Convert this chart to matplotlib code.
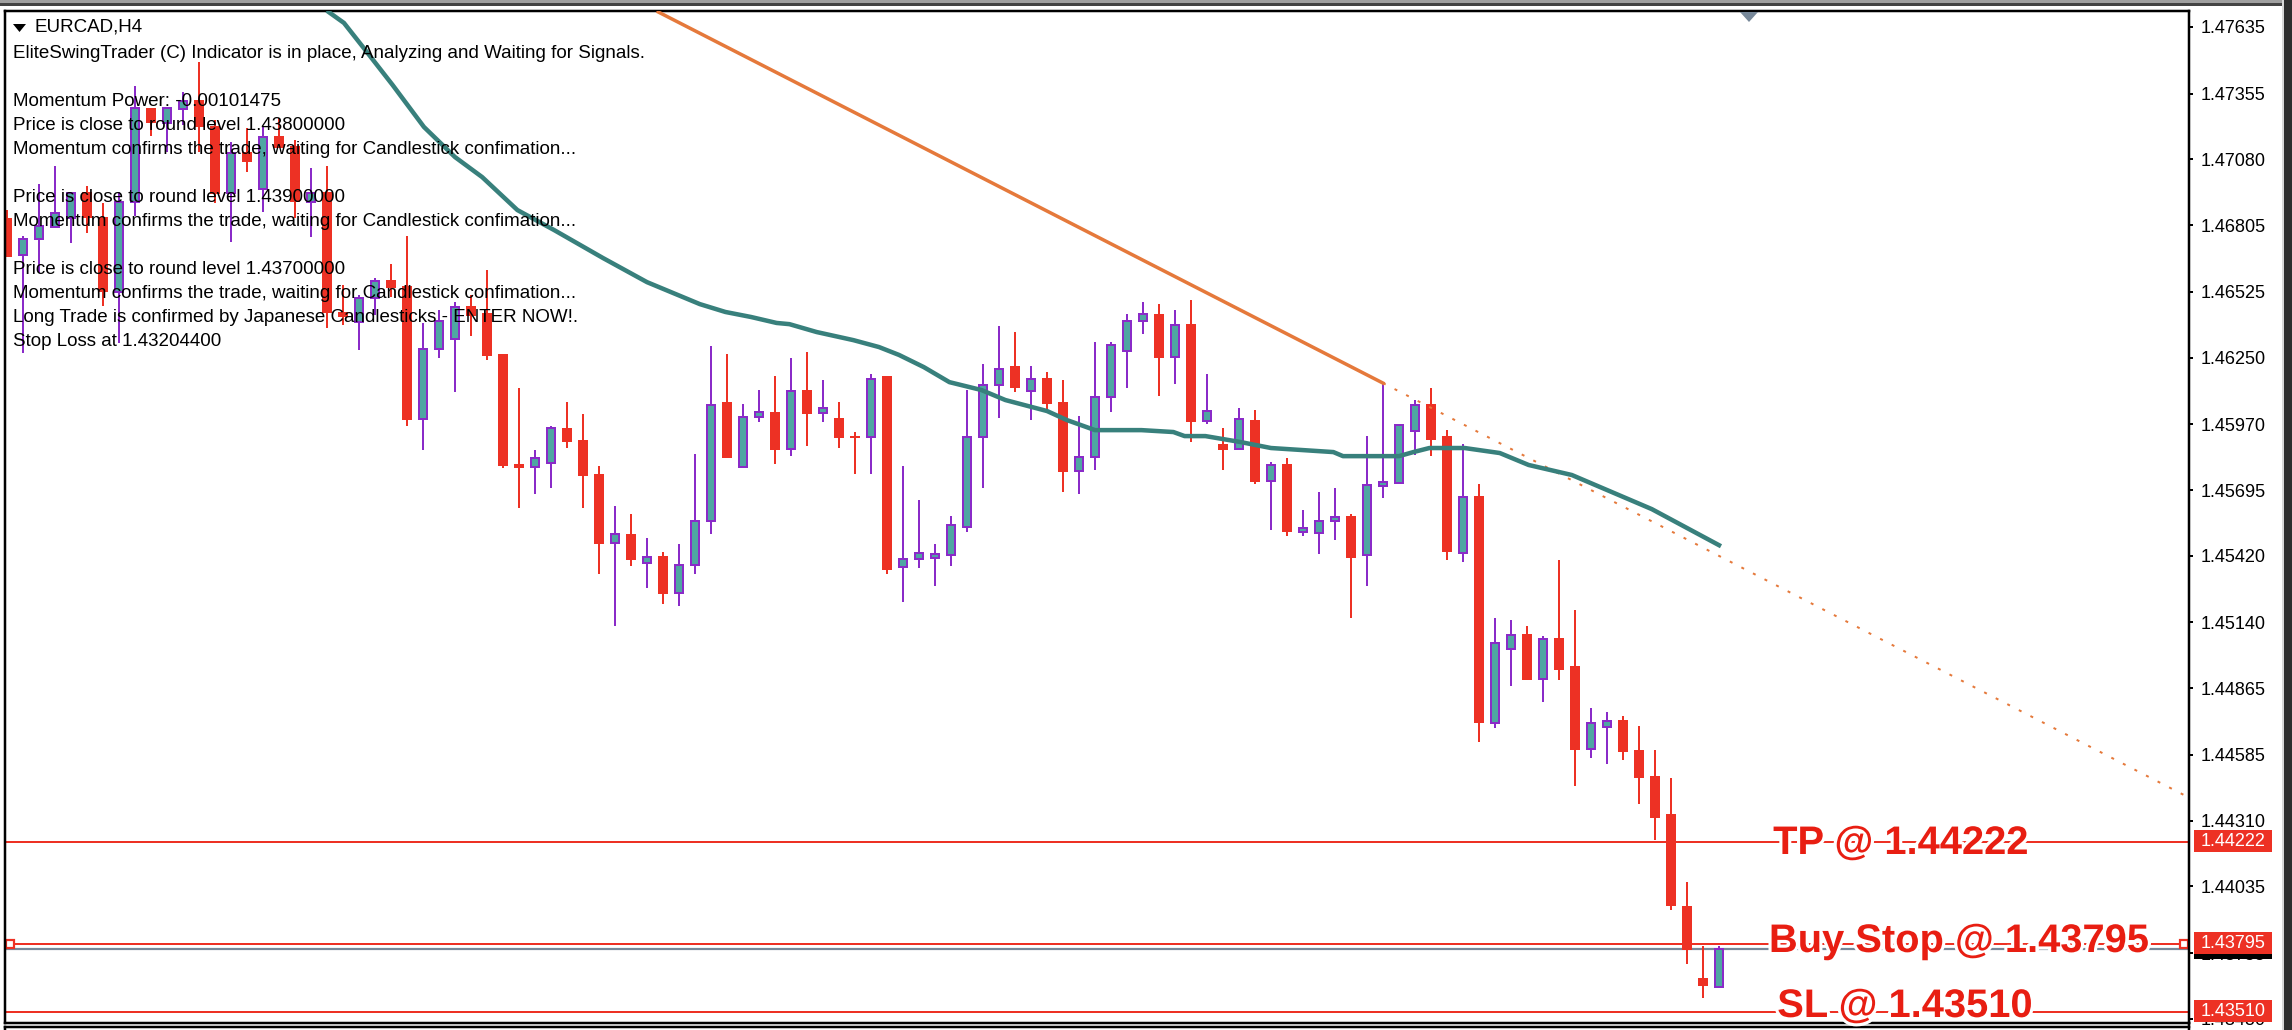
import matplotlib
matplotlib.use('Agg')
import matplotlib.pyplot as plt
import matplotlib.patheffects as pe
from matplotlib.lines import Line2D
from matplotlib.patches import Polygon, Rectangle

# EURCAD H4 bars, left to right
opens = [1.46835,1.46680,1.46747,1.46797,1.46835,1.46944,1.46839,1.46525,1.46902,1.47295,
         1.47233,1.47291,1.47329,1.47220,1.46939,1.47111,1.46956,1.47178,1.47136,1.46902,
         1.46944,1.46441,1.46399,1.46499,1.46575,1.46550,1.45992,1.46286,1.46328,1.46466,
         1.46437,1.46265,1.45804,1.45791,1.45808,1.45955,1.45904,1.45762,1.45473,1.45511,
         1.45389,1.45418,1.45263,1.45381,1.45565,1.46064,1.45791,1.46001,1.46022,1.45867,
         1.46114,1.46018,1.45997,1.45921,1.45917,1.46173,1.45372,1.45406,1.45410,1.45423,
         1.45540,1.45917,1.46135,1.46214,1.46110,1.46164,1.46064,1.45775,1.45833,1.46085,
         1.46277,1.46403,1.46432,1.46252,1.46390,1.45984,1.45888,1.45867,1.45988,1.45733,
         1.45804,1.45519,1.45515,1.45565,1.45586,1.45423,1.45712,1.45724,1.45942,1.46055,
         1.45921,1.45431,1.45670,1.44719,1.45029,1.45092,1.44903,1.45075,1.44957,1.44610,
         1.44702,1.44731,1.44605,1.44497,1.44337,1.43952,1.43650,1.43612]
highs = [1.46868,1.46759,1.46977,1.47052,1.46939,1.46969,1.46897,1.46944,1.47388,1.47295,
         1.47295,1.47363,1.47488,1.47245,1.47153,1.47212,1.47216,1.47254,1.47161,1.47044,
         1.47052,1.46554,1.46512,1.46583,1.46642,1.46759,1.46395,1.46449,1.46483,1.46512,
         1.46617,1.46265,1.46122,1.45862,1.45963,1.46064,1.46013,1.45795,1.45628,1.45594,
         1.45494,1.45435,1.45469,1.45846,1.46298,1.46265,1.46055,1.46114,1.46173,1.46248,
         1.46273,1.46156,1.46064,1.45938,1.46181,1.46173,1.45795,1.45653,1.45469,1.45586,
         1.46114,1.46223,1.46382,1.46357,1.46214,1.46189,1.46156,1.46005,1.46315,1.46315,
         1.46432,1.46483,1.46474,1.46449,1.46491,1.46181,1.45955,1.46038,1.46030,1.45812,
         1.45829,1.45611,1.45687,1.45703,1.45594,1.45921,1.46139,1.45967,1.46072,1.46122,
         1.45946,1.45888,1.45720,1.45159,1.45150,1.45125,1.45083,1.45402,1.45192,1.44781,
         1.44765,1.44748,1.44706,1.44605,1.44488,1.44052,1.43784,1.43784]
lows = [1.46671,1.46269,1.46604,1.46797,1.46730,1.46772,1.46466,1.46311,1.46843,1.47178,
        1.47111,1.47224,1.47111,1.46897,1.46734,1.47027,1.46860,1.47128,1.46835,1.46755,
        1.46374,1.46386,1.46281,1.46428,1.46504,1.45963,1.45862,1.46248,1.46106,1.46340,
        1.46240,1.45787,1.45619,1.45678,1.45703,1.45871,1.45619,1.45343,1.45125,1.45376,
        1.45284,1.45217,1.45209,1.45343,1.45511,1.45829,1.45791,1.45980,1.45804,1.45837,
        1.45879,1.45980,1.45871,1.45762,1.45762,1.45343,1.45226,1.45368,1.45293,1.45376,
        1.45519,1.45703,1.45997,1.46106,1.45988,1.46030,1.45687,1.45678,1.45779,1.46022,
        1.46122,1.46349,1.46089,1.46139,1.45896,1.45971,1.45779,1.45862,1.45720,1.45527,
        1.45502,1.45502,1.45427,1.45485,1.45159,1.45293,1.45661,1.45724,1.45842,1.45837,
        1.45402,1.45393,1.44639,1.44698,1.44874,1.44899,1.44807,1.44899,1.44455,1.44572,
        1.44547,1.44564,1.44379,1.44228,1.43935,1.43709,1.43566,1.43612]
closes = [1.46671,1.46747,1.46801,1.46856,1.46939,1.46835,1.46525,1.46902,1.47295,1.47233,
          1.47295,1.47325,1.47216,1.46935,1.47107,1.47069,1.47174,1.47128,1.46902,1.46939,
          1.46437,1.46420,1.46499,1.46571,1.46541,1.45988,1.46286,1.46403,1.46462,1.46424,
          1.46256,1.45795,1.45787,1.45829,1.45955,1.45896,1.45754,1.45469,1.45511,1.45402,
          1.45414,1.45259,1.45381,1.45565,1.46051,1.45829,1.46001,1.46022,1.45862,1.46110,
          1.46013,1.46038,1.45913,1.45913,1.46160,1.45360,1.45406,1.45431,1.45427,1.45548,
          1.45917,1.46135,1.46202,1.46122,1.46160,1.46055,1.45770,1.45833,1.46085,1.46302,
          1.46403,1.46432,1.46248,1.46386,1.45980,1.46026,1.45862,1.45992,1.45728,1.45800,
          1.45519,1.45536,1.45565,1.45582,1.45410,1.45716,1.45728,1.45967,1.46051,1.45904,
          1.45435,1.45666,1.44719,1.45054,1.45087,1.44899,1.45071,1.44941,1.44605,1.44719,
          1.44727,1.44597,1.44488,1.44321,1.43952,1.43767,1.43617,1.43772]

# moving average, vertices (bar number, price)
ma_bars = [20.1,21.06,22.4,24.1,26.06,28,29.7,31.9,34.2,37.25,40,43.3,44.9,46.5,48.1,48.9,
           50.6,52.9,54.5,55.75,57.3,58.9,60.9,62.4,65,66.25,68,70.9,72.9,73.6,74.9,77.1,
           79,82.9,83.5,87,87.9,88.9,91.1,93.3,95.1,97.8,102.8,107]
ma_prices = [1.47698,1.47652,1.47538,1.47392,1.47216,1.47090,1.47006,1.46868,1.46784,1.46667,
             1.46566,1.46474,1.46441,1.46420,1.46395,1.46390,1.46357,1.46323,1.46294,1.46261,
             1.46210,1.46147,1.46114,1.46072,1.46026,1.45988,1.45946,1.45946,1.45938,1.45921,
             1.45921,1.45896,1.45871,1.45854,1.45837,1.45837,1.45854,1.45871,1.45871,1.45850,
             1.45800,1.45758,1.45615,1.45464]

# trend line: solid part, then the dotted ray up to the price axis
trend_bars = [40.7, 86]
trend_prices = [1.47698, 1.46143]
ray_bars = [86, 136.3]
ray_prices = [1.46143, 1.44409]

tick_prices = [1.47635,1.47355,1.47080,1.46805,1.46525,1.46250,1.45970,1.45695,1.45420,
               1.45140,1.44865,1.44585,1.44310,1.44035,1.43755,1.43480]
take_profit = 1.44222
buy_stop = 1.43795
stop_loss = 1.43510
bid = 1.43772

info_lines = ["EliteSwingTrader (C) Indicator is in place, Analyzing and Waiting for Signals.",
              "",
              "Momentum Power: -0.00101475",
              "Price is close to round level 1.43800000",
              "Momentum confirms the trade, waiting for Candlestick confimation...",
              "",
              "Price is close to round level 1.43900000",
              "Momentum confirms the trade, waiting for Candlestick confimation...",
              "",
              "Price is close to round level 1.43700000",
              "Momentum confirms the trade, waiting for Candlestick confimation...",
              "Long Trade is confirmed by Japanese Candlesticks - ENTER NOW!.",
              "Stop Loss at 1.43204400"]

RED = '#ED3124'
TEAL = '#4FA6A2'
PURPLE = '#8A2BC8'
MA_COLOR = '#38807C'
ORANGE = '#E5793B'
SLATE = '#778899'
W, H = 2292, 1030
PX = 72 / 100  # one pixel in points

plt.rcParams['font.family'] = ['Liberation Sans', 'DejaVu Sans']


def fx(x):
    return x / W


def fy(y):
    return 1 - y / H


fig = plt.figure(figsize=(W / 100, H / 100), dpi=100, facecolor='white')
ax = fig.add_axes([fx(5), fy(1023), fx(2189 - 5), (1023 - 11) / H])
ax.set_xlim(-0.125, 136.375)
ax.set_ylim(1.43462, 1.47702)
ax.set_xticks([])
for s in ax.spines.values():
    s.set_linewidth(2.5 * PX)

ax.yaxis.tick_right()
ax.set_yticks(tick_prices)
ax.set_yticklabels([f'{p:.5f}' for p in tick_prices], fontsize=13)
ax.tick_params(axis='y', length=4 * PX, width=2 * PX, pad=8 * PX)

# horizontal order lines
for level in [take_profit, buy_stop, stop_loss]:
    ax.axhline(level, color=RED, lw=2 * PX, zorder=1)
ax.axhline(bid, color=SLATE, lw=2.2 * PX, zorder=1)
ax.plot([0.0025, 0.9975], [buy_stop, buy_stop], transform=ax.get_yaxis_transform(), ls='none',
        marker='s', ms=7.5 * PX, mfc='white', mec=RED, mew=2.2 * PX, zorder=1.2, clip_on=False)

# candles
for i in range(len(opens)):
    up = closes[i] >= opens[i]
    bottom = min(opens[i], closes[i])
    height = abs(closes[i] - opens[i])
    ax.vlines(i, lows[i], highs[i], color=PURPLE if up else RED, lw=2 * PX, zorder=2)
    if up:
        ax.bar(i, height, bottom=bottom, width=0.52, color=TEAL, edgecolor=PURPLE,
               linewidth=2 * PX, zorder=2.1)
    else:
        ax.bar(i, height, bottom=bottom, width=0.62, color=RED, linewidth=0, zorder=2.1)

ax.plot(trend_bars, trend_prices, color=ORANGE, lw=3.5 * PX, zorder=3)
ax.plot(ray_bars, ray_prices, color=ORANGE, lw=2 * PX, ls=(0, (1.5, 5)), zorder=3)
ax.plot(ma_bars, ma_prices, color=MA_COLOR, lw=4.5 * PX, zorder=3.1)

# price tags sitting on the axis
tag_tr = ax.get_yaxis_transform()
tag_x = 1.00229
tag_w = 0.0357
tag_h = 0.00092
for price, bg, z in [(bid, 'black', 4), (take_profit, RED, 5), (buy_stop, RED, 5), (stop_loss, RED, 5)]:
    ax.add_patch(Rectangle((tag_x, price - tag_h / 2 + 0.00004), tag_w, tag_h, transform=tag_tr,
                           fc=bg, ec='none', zorder=z, clip_on=False))
    ax.text(tag_x + tag_w / 2, price, f'{price:.5f}', transform=tag_tr, fontsize=13,
            color='white', va='center', ha='center', zorder=z + 0.1, clip_on=False)

# big red annotations with a white halo that cuts the lines
halo = [pe.withStroke(linewidth=4.5, foreground='white')]
for label, cx, cy in [('TP @ 1.44222', 1901, 839), ('Buy Stop @ 1.43795', 1959, 937), ('SL @ 1.43510', 1905, 1002)]:
    fig.text(fx(cx), fy(cy), label, color='#E81E12', fontsize=28.7, fontweight='bold', ha='center',
             va='center_baseline', path_effects=halo, zorder=10)

# header and indicator comment
fig.add_artist(Polygon([[fx(13), fy(24)], [fx(26), fy(24)], [fx(19.5), fy(32)]], closed=True,
                       transform=fig.transFigure, fc='black', ec='none', zorder=8))
fig.text(fx(35), fy(27), 'EURCAD,H4', fontsize=13.5, color='black', va='center', zorder=8)
for row, line in enumerate(info_lines):
    fig.text(fx(13), fy(53 + 24 * row), line, fontsize=13.5, color='black', va='center', zorder=8)

# grid-shift arrow on top of the chart
fig.add_artist(Polygon([[fx(1740), fy(12)], [fx(1758), fy(12)], [fx(1749), fy(22)]], closed=True,
                       transform=fig.transFigure, fc=SLATE, ec='none', zorder=8))

# terminal window bits around the chart
fig.add_artist(Rectangle((0, fy(3)), 1, 3 / H, transform=fig.transFigure, fc='#A0A0A0', ec='none'))
fig.add_artist(Rectangle((0, fy(6)), 1, 3 / H, transform=fig.transFigure, fc='#444444', ec='none'))
fig.add_artist(Rectangle((fx(2282), 0), 2 / W, 1, transform=fig.transFigure, fc='#D8D8D8', ec='none'))
fig.add_artist(Rectangle((fx(2284), 0), 8 / W, 1, transform=fig.transFigure, fc='#2E2E2E', ec='none'))
fig.add_artist(Line2D([fx(5), fx(2189)], [fy(1027), fy(1027)], color='black', lw=2.5 * PX))
fig.add_artist(Line2D([fx(5), fx(5)], [fy(1027), fy(1030)], color='black', lw=2.5 * PX))
fig.add_artist(Line2D([fx(2189), fx(2189)], [fy(1023), fy(1030)], color='black', lw=2.5 * PX))

fig.savefig('out.png', dpi=100)
